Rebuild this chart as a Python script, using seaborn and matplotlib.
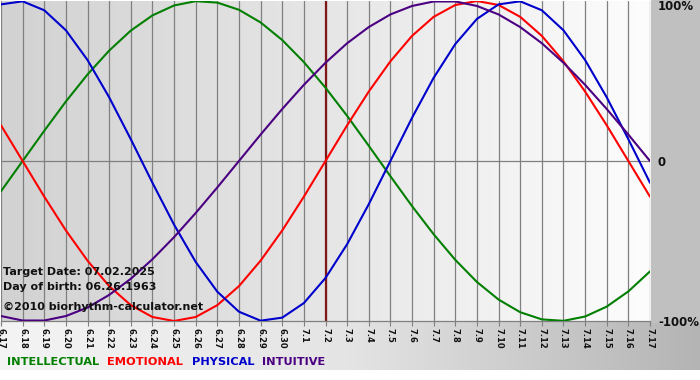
import numpy as np
import pandas as pd
import matplotlib
matplotlib.use("Agg")
import matplotlib.pyplot as plt
import seaborn as sns
from matplotlib.colors import LinearSegmentedColormap

# ---- data ----
dates = ["6.17", "6.18", "6.19", "6.20", "6.21", "6.22", "6.23", "6.24", "6.25", "6.26",
         "6.27", "6.28", "6.29", "6.30", "7.1", "7.2", "7.3", "7.4", "7.5", "7.6",
         "7.7", "7.8", "7.9", "7.10", "7.11", "7.12", "7.13", "7.14", "7.15", "7.16", "7.17"]
intellectual = [-0.189, 0.0, 0.189, 0.372, 0.541, 0.690, 0.815, 0.910, 0.972, 0.999,
                0.990, 0.945, 0.866, 0.756, 0.618, 0.458, 0.282, 0.095, -0.095, -0.282,
                -0.458, -0.618, -0.756, -0.866, -0.945, -0.990, -0.999, -0.972, -0.910, -0.815, -0.690]
emotional = [0.223, 0.0, -0.223, -0.434, -0.623, -0.782, -0.901, -0.975, -1.0, -0.975,
             -0.901, -0.782, -0.623, -0.434, -0.223, 0.0, 0.223, 0.434, 0.623, 0.782,
             0.901, 0.975, 1.0, 0.975, 0.901, 0.782, 0.623, 0.434, 0.223, 0.0, -0.223]
physical = [0.979, 0.998, 0.942, 0.817, 0.631, 0.398, 0.136, -0.136, -0.398, -0.631,
            -0.817, -0.942, -0.998, -0.979, -0.888, -0.731, -0.520, -0.270, 0.0, 0.270,
            0.520, 0.731, 0.888, 0.979, 0.998, 0.942, 0.817, 0.631, 0.398, 0.136, -0.136]
intuitive = [-0.969, -0.997, -0.997, -0.969, -0.916, -0.837, -0.736, -0.614, -0.476, -0.325,
             -0.165, 0.0, 0.165, 0.325, 0.476, 0.614, 0.736, 0.837, 0.916, 0.969,
             0.997, 0.997, 0.969, 0.916, 0.837, 0.736, 0.614, 0.476, 0.325, 0.165, 0.0]
series_names = ["INTELLECTUAL", "EMOTIONAL", "PHYSICAL", "INTUITIVE"]
series_colors = ["#007f00", "#ff0000", "#0000cc", "#4b0082"]
target_index = 15  # 7.2
y_labels = ["100%", "0", "-100%"]
info_lines = ["Target Date: 07.02.2025", "Day of birth: 06.26.1963", "\u00a92010 biorhythm-calculator.net"]

rows = []
for name, vals in zip(series_names, [intellectual, emotional, physical, intuitive]):
    for i, v in enumerate(vals):
        rows.append({"day": i, "value": v, "cycle": name})
df = pd.DataFrame(rows)

sns.set_theme(style="white")
plt.rcParams['font.family'] = ['DejaVu Sans']

W, H = 700, 380
fig = plt.figure(figsize=(W / 100, H / 100), dpi=100)
fig.patch.set_facecolor("white")

# background decoration in pixel coordinates
bg = fig.add_axes([0, 0, 1, 1], zorder=-5)
bg.set_xlim(0, W)
bg.set_ylim(0, H)
bg.axis("off")
grad = np.linspace(0, 1, 256).reshape(1, -1)
cm_bottom = LinearSegmentedColormap.from_list("b", ["#f4f4f4", "#e4e4e4", "#b4b4b4"])
bg.imshow(grad, extent=[0, W, 10, 58], aspect="auto", cmap=cm_bottom, zorder=0)
bg.add_patch(plt.Rectangle((651, 58), W - 651, H - 58, color="#c0c0c0", zorder=1))

# main axes
left, right = 1 / W, 650 / W
bottom, top = (H - 321) / H, (H - 1) / H
ax = fig.add_axes([left, bottom, right - left, top - bottom])
ax.set_xlim(0, len(dates) - 1)
ax.set_ylim(-1.0, 1.0)
cm_plot = LinearSegmentedColormap.from_list("p", ["#d2d2d2", "#e6e6e6", "#fdfdfd"])
ax.imshow(grad, extent=[0, len(dates) - 1, -1, 1], aspect="auto", cmap=cm_plot, zorder=0)

for i in range(len(dates)):
    ax.axvline(i, color="#808080", lw=0.9, zorder=1)
ax.axhline(0, color="#808080", lw=0.9, zorder=1)
ax.axvline(target_index, color="#801818", lw=1.6, zorder=2)

sns.lineplot(data=df, x="day", y="value", hue="cycle", palette=dict(zip(series_names, series_colors)),
             hue_order=series_names, legend=False, ax=ax, linewidth=1.5, zorder=3)

for s in ax.spines.values():
    s.set_visible(False)
ax.spines["bottom"].set_visible(True)
ax.spines["bottom"].set_color("#808080")
ax.spines["bottom"].set_linewidth(0.9)
ax.set_xlabel("")
ax.set_ylabel("")
ax.set_yticks([])
ax.set_xticks(range(len(dates)))
ax.set_xticklabels(dates, rotation=270, fontsize=6.0, fontweight="bold", color="#111111")
ax.tick_params(axis="x", length=3.5, width=0.8, color="#808080", pad=1.5, bottom=True)

# right-side labels
for lab, ypx in zip(y_labels, [7, 162, 322]):
    fig.text(658 / W, (H - ypx) / H, lab, ha="left", va="center", fontsize=8.5,
             fontweight="bold", color="#111111")

# info text overlay
for txt, ypx in zip(info_lines, [272, 287, 307]):
    fig.text(3 / W, (H - ypx) / H, txt, ha="left", va="center", fontsize=8.0,
             fontweight="bold", color="#111111")

# legend words
for name, col, xpx in zip(series_names, series_colors, [7, 107, 192, 262]):
    fig.text(xpx / W, (H - 362) / H, name, ha="left", va="center", fontsize=8.2,
             fontweight="bold", color=col)

fig.savefig("out.png", dpi=100)
